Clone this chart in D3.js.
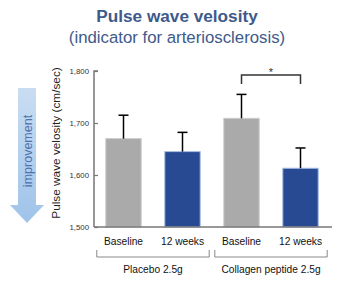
<!DOCTYPE html>
<html><head><meta charset="utf-8">
<script src="https://cdn.jsdelivr.net/npm/d3@7"></script>
<style>body{margin:0;background:#fff}svg{display:block;font-family:"Liberation Sans",Arial,sans-serif}</style>
</head><body><svg id="c" width="355" height="284"></svg>
<script>
const categories = ["Baseline","12 weeks","Baseline","12 weeks"];
const groups = ["Placebo 2.5g","Collagen peptide 2.5g"];
const groupMembers = [[0,1],[2,3]];
const means = [1670,1645,1709,1613];
const errors = [45,37,46,39];
const barKinds = ["base","week","base","week"];
const yTicks = [1500,1600,1700,1800];
const yTickLabels = ["1,500","1,600","1,700","1,800"];
const sigPair = [2,3];

const svg = d3.select("#c");
const x = d3.scaleBand().domain(d3.range(categories.length)).range([94,330]).paddingInner(0.4).paddingOuter(0.2);
const y = d3.scaleLinear().domain([1500,1800]).range([227,71]);
const fill = {base:"#aaaaaa", week:"#284a93"};
const edge = {base:"#cccccc", week:"#a8bce4"};
const titleColor = "#3e5a8b";

// title
svg.append("text").attr("x",177).attr("y",22).attr("text-anchor","middle")
  .attr("font-size",17.2).attr("font-weight","bold").attr("fill",titleColor).text("Pulse wave velosity");
svg.append("text").attr("x",177).attr("y",43).attr("text-anchor","middle")
  .attr("font-size",16.8).attr("fill",titleColor).text("(indicator for arteriosclerosis)");

// arrow
const defs = svg.append("defs");
const g = defs.append("linearGradient").attr("id","ag").attr("x1",0).attr("y1",0).attr("x2",0).attr("y2",1);
g.append("stop").attr("offset","0%").attr("stop-color","#c9ddf2");
g.append("stop").attr("offset","100%").attr("stop-color","#9fc3ea");
svg.append("path").attr("d","M18,88 L36,88 L36,205 L44,205 L27,223 L10,205 L18,205 Z").attr("fill","url(#ag)");
svg.append("text").attr("transform","translate(31.5,151) rotate(-90)").attr("text-anchor","middle")
  .attr("font-size",12.5).attr("fill","#4e72ad").text("improvement");

// y label
svg.append("text").attr("transform","translate(60,143) rotate(-90)").attr("text-anchor","middle")
  .attr("font-size",11.8).attr("fill","#222").text("Pulse wave velosity (cm/sec)");

// bars
svg.append("g").selectAll("rect").data(means).join("rect")
  .attr("x",(d,i)=>x(i)).attr("width",x.bandwidth())
  .attr("y",d=>y(d)).attr("height",d=>y(1500)-y(d))
  .attr("fill",(d,i)=>fill[barKinds[i]]).attr("stroke",(d,i)=>edge[barKinds[i]]).attr("stroke-width",1);

// error bars
const eg = svg.append("g").attr("stroke","#000").attr("stroke-width",1.5);
means.forEach((m,i)=>{
  const cx = x(i)+x.bandwidth()/2;
  eg.append("line").attr("x1",cx).attr("x2",cx).attr("y1",y(m)).attr("y2",y(m+errors[i]));
  eg.append("line").attr("x1",cx-5).attr("x2",cx+5).attr("y1",y(m+errors[i])).attr("y2",y(m+errors[i]));
});

// y axis
const ya = svg.append("g").attr("transform","translate(94,0)")
  .call(d3.axisRight(y).tickValues(yTicks).tickSize(4).tickFormat((d,i)=>yTickLabels[i]));
ya.select(".domain").attr("stroke","#777").attr("stroke-width",1.5).attr("d","M4,71H0V227");
ya.selectAll(".tick line").attr("stroke","#777").attr("stroke-width",1.2);
ya.selectAll(".tick text").attr("x",-5).attr("text-anchor","end").attr("font-size",7.8)
  .attr("fill","#333").attr("font-family","Liberation Sans, Arial, sans-serif");
// x axis line
svg.append("line").attr("x1",94).attr("x2",332).attr("y1",y(1500)).attr("y2",y(1500)).attr("stroke","#777").attr("stroke-width",1.5);

// category labels
svg.append("g").selectAll("text").data(categories).join("text")
  .attr("x",(d,i)=>x(i)+x.bandwidth()/2).attr("y",245).attr("text-anchor","middle")
  .attr("font-size",10.2).attr("fill","#111").text(d=>d);

// group brackets
groupMembers.forEach((mem,gi)=>{
  const x0 = x(mem[0])-9, x1 = x(mem[mem.length-1])+x.bandwidth()+9;
  svg.append("path").attr("d",`M${x0},250V257H${x1}V250`).attr("fill","none").attr("stroke","#888").attr("stroke-width",1);
  svg.append("text").attr("x",(x0+x1)/2).attr("y",273).attr("text-anchor","middle")
    .attr("font-size",10.2).attr("fill","#111").text(groups[gi]);
});

// significance
const sx0 = x(sigPair[0])+x.bandwidth()/2, sx1 = x(sigPair[1])+x.bandwidth()/2;
svg.append("path").attr("d",`M${sx0},84V75H${sx1}V84`).attr("fill","none").attr("stroke","#333").attr("stroke-width",1.5);
svg.append("text").attr("x",(sx0+sx1)/2).attr("y",75.5).attr("text-anchor","middle").attr("font-size",11).attr("fill","#333").text("*");
</script></body></html>
